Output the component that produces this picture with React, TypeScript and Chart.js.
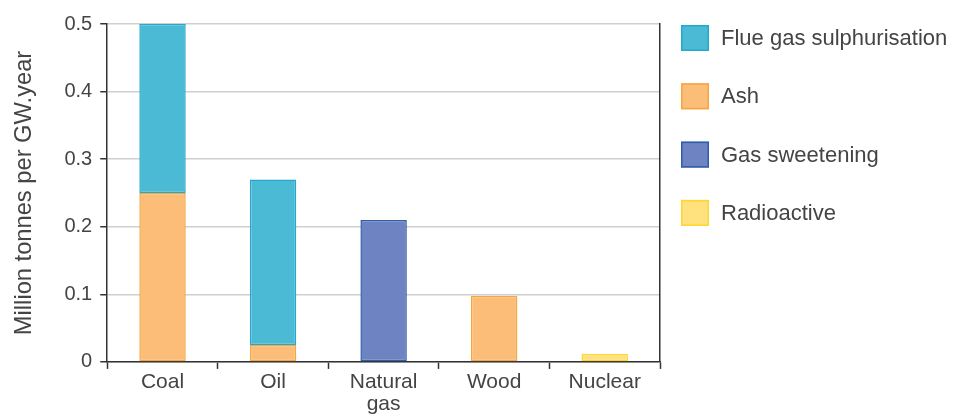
import React, { useEffect, useRef } from "react";
import { Chart, registerables } from "chart.js";

Chart.register(...registerables);

const categories: (string | string[])[] = ["Coal", "Oil", ["Natural", "gas"], "Wood", "Nuclear"];
const ashValues = [0.25, 0.025, null, 0.098, null];
const flueGasValues = [0.25, 0.245, null, null, null];
const gasSweeteningValues = [null, null, 0.21, null, null];
const radioactiveValues = [null, null, null, null, 0.012];
const legendOrder = ["Flue gas sulphurisation", "Ash", "Gas sweetening", "Radioactive"];
const yTicks = [0, 0.1, 0.2, 0.3, 0.4, 0.5];

const FONT = "'Liberation Sans', Arial, sans-serif";
const TEXT = "#444";

const sideLegend = {
  id: "sideLegend",
  afterDraw(chart: any) {
    const { ctx, chartArea } = chart;
    const x0 = chartArea.right + 21;
    const y0 = chartArea.top + 1;
    const step = 58.3;
    const bw = 28;
    const bh = 26;
    ctx.save();
    ctx.font = `22px ${FONT}`;
    ctx.textBaseline = "middle";
    ctx.textAlign = "left";
    legendOrder.forEach((name, i) => {
      const ds = chart.data.datasets.find((d: any) => d.label === name);
      if (!ds) return;
      const y = y0 + i * step;
      ctx.fillStyle = ds.backgroundColor;
      ctx.fillRect(x0, y, bw, bh);
      ctx.strokeStyle = ds.borderColor;
      ctx.lineWidth = 1.5;
      ctx.strokeRect(x0 + 0.75, y + 0.75, bw - 1.5, bh - 1.5);
      ctx.fillStyle = TEXT;
      ctx.fillText(name, x0 + bw + 12, y + bh / 2 + 1);
    });
    ctx.restore();
  },
};

export default function App() {
  const ref = useRef<HTMLCanvasElement | null>(null);
  useEffect(() => {
    if (!ref.current) return;
    const chart = new Chart(ref.current, {
      type: "bar",
      data: {
        labels: categories,
        datasets: [
          { label: "Ash", data: ashValues, backgroundColor: "#FBBD77", borderColor: "#F7A53E", borderWidth: 1.5, borderSkipped: false },
          { label: "Flue gas sulphurisation", data: flueGasValues, backgroundColor: "#4BBAD4", borderColor: "#24A9CB", borderWidth: 1.5, borderSkipped: false },
          { label: "Gas sweetening", data: gasSweeteningValues, backgroundColor: "#6E84C2", borderColor: "#2E5DAA", borderWidth: 1.5, borderSkipped: false },
          { label: "Radioactive", data: radioactiveValues, backgroundColor: "#FFE17E", borderColor: "#FFD630", borderWidth: 1.5, borderSkipped: false },
        ] as any,
      },
      plugins: [sideLegend],
      options: {
        responsive: false,
        animation: false,
        devicePixelRatio: 1,
        layout: { padding: { top: 24, left: 4, right: 302, bottom: 0 } },
        datasets: { bar: { categoryPercentage: 1, barPercentage: 0.42 } },
        plugins: {
          tooltip: { enabled: false },
          legend: { display: false },
        },
        scales: {
          x: {
            stacked: true,
            offset: true,
            grid: { offset: true, drawOnChartArea: false, drawTicks: true, tickLength: 7, tickColor: "#333", tickWidth: 1.5 },
            border: { color: "#333", width: 1.5 },
            ticks: { color: TEXT, font: { family: FONT, size: 21, lineHeight: 1.05 }, padding: 2, maxRotation: 0 },
          },
          y: {
            stacked: true,
            min: 0,
            max: 0.5,
            afterBuildTicks: (s: any) => { s.ticks = yTicks.map((v) => ({ value: v })); },
            grid: { color: "#cfcfcf", lineWidth: 1.5, tickColor: "#333", tickLength: 7, tickWidth: 1.5 },
            border: { color: "#333", width: 1.5 },
            ticks: {
              color: TEXT,
              font: { family: FONT, size: 20 },
              padding: 8,
              callback: (v: any) => (Number(v) === 0 ? "0" : Number(v).toFixed(1)),
            },
            title: { display: true, text: "Million tonnes per GW.year", color: TEXT, font: { family: FONT, size: 23.7 }, padding: { top: 6, bottom: 18 } },
          },
          y1: {
            position: "right",
            display: true,
            min: 0,
            max: 0.5,
            grid: { display: true, drawOnChartArea: false, drawTicks: false },
            border: { color: "#333", width: 1.5 },
            ticks: { display: false },
          },
        },
      } as any,
    });
    return () => chart.destroy();
  }, []);
  return (
    <div style={{ position: "fixed", left: 0, top: 0, width: 962, height: 417, background: "#fff" }}>
      <canvas ref={ref} width={962} height={417} />
    </div>
  );
}
